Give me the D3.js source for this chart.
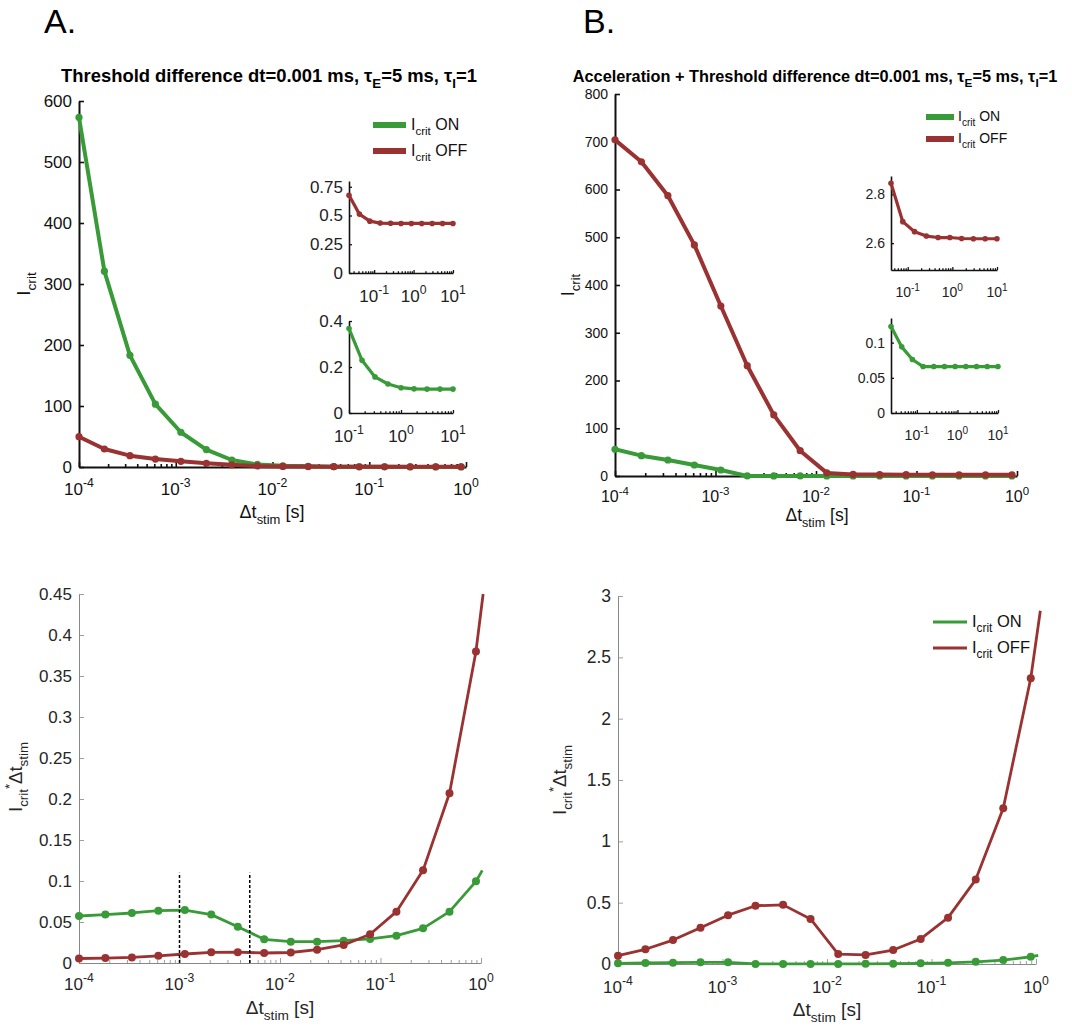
<!DOCTYPE html>
<html><head><meta charset="utf-8">
<script src="https://cdn.jsdelivr.net/npm/d3@7"></script>
<style>
body{margin:0;background:#fff}
svg{display:block}
text{font-family:"Liberation Sans",Arial,Helvetica,sans-serif}
</style>
</head><body>
<svg id="c" width="1072" height="1032"></svg>
<script>
// ---------------- data ----------------
const dtStim = [0.0001,0.000183,0.000336,0.000616,0.00113,0.00207,0.0038,0.00696,0.0128,0.0234,0.043,0.0788,0.144,0.265,0.486,0.891];
const icritOnA  = [573,321,183,103,57,28.5,11.5,4.2,2.0,1.1,0.6,0.36,0.23,0.16,0.13,0.11];
const icritOffA = [49.7,29.5,18.6,13.0,9.3,6.0,3.5,1.75,1.0,0.7,0.51,0.44,0.435,0.43,0.427,0.427];
const icritOnB  = [56,42.6,33.5,23,12.6,0.12,0.1,0.08,0.07,0.066,0.066,0.066,0.066,0.066,0.066,0.066];
const icritOffB = [704,658,587,484,356,231,128,53,6.5,3.2,2.9,2.7,2.65,2.62,2.62,2.62];
const prodOnA  = [0.0573,0.059,0.061,0.0638,0.0646,0.059,0.0443,0.0289,0.026,0.026,0.0272,0.0293,0.0333,0.0423,0.0626,0.0996];
const prodOffA = [0.0055,0.0060,0.0068,0.0088,0.0110,0.0130,0.0132,0.0122,0.0128,0.0163,0.022,0.035,0.0626,0.113,0.207,0.380];
const prodOnB  = [0.0055,0.008,0.011,0.014,0.014,0.0003,0.0004,0.0006,0.0009,0.0015,0.0028,0.0052,0.0095,0.0175,0.032,0.059];
const prodOffB = [0.068,0.12,0.195,0.295,0.398,0.475,0.482,0.367,0.081,0.074,0.114,0.204,0.378,0.688,1.27,2.33];
// unmarked line ends beyond the last marker
const prodEndOnA = [1.03, 0.113], prodEndOffA = [1.05, 0.45];
const prodEndOnB = [1.05, 0.07], prodEndOffB = [1.1, 2.88];
const markerDt = [0.001, 0.005];
const markerTop = 0.11;

// insets
const insetXA1 = [0.023,0.0422,0.0775,0.142,0.261,0.479,0.879,1.61,2.96,5.43,9.97];
const insetOffA = [0.676,0.512,0.451,0.434,0.432,0.431,0.431,0.431,0.431,0.431,0.431];
const insetXA2 = [0.1,0.178,0.316,0.562,1,1.78,3.16,5.62,10];
const insetOnA = [0.367,0.229,0.157,0.126,0.110,0.105,0.104,0.104,0.104];
const insetXB1 = [0.0422,0.0775,0.142,0.261,0.479,0.879,1.61,2.96,5.43,9.97];
const insetOffB = [2.845,2.688,2.647,2.629,2.623,2.623,2.619,2.618,2.618,2.618];
const insetXB2 = [0.023,0.0422,0.0775,0.142,0.261,0.479,0.879,1.61,2.96,5.43,9.97];
const insetOnB = [0.123,0.094,0.076,0.066,0.066,0.066,0.066,0.066,0.066,0.066,0.066];

// ticks
const mainExps = [-4,-3,-2,-1,0];
const insetExps = [-1,0,1];
const yTicksTopA = [0,100,200,300,400,500,600];
const yTicksTopB = [0,100,200,300,400,500,600,700,800];
const yTicksBotA = [0,0.05,0.1,0.15,0.2,0.25,0.3,0.35,0.4,0.45];
const yTicksBotB = [0,0.5,1,1.5,2,2.5,3];
const yTicksInA1 = [0,0.25,0.5,0.75];
const yTicksInA2 = [0,0.2,0.4];
const yTicksInB1 = [2.6,2.8];
const yTicksInB2 = [0,0.05,0.1];

const GREEN = "#389b38", RED = "#9a3232";
const svg = d3.select("#c");

// ---------------- helpers ----------------
function rich(sel, parts, size) {
  let cur = 0;
  parts.forEach(([t, m]) => {
    const ts = sel.append("tspan").text(t);
    const target = m === "sub" ? 0.32 * size : m === "sup" ? -0.45 * size : 0;
    ts.attr("dy", target - cur);
    if (m) ts.attr("font-size", size * 0.72);
    cur = target;
  });
  return sel;
}
function minorTicks(d0, d1) {
  const out = [];
  for (let k = Math.floor(Math.log10(d0)); k <= Math.ceil(Math.log10(d1)); k++)
    for (let m = 2; m <= 9; m++) { const v = m * Math.pow(10, k); if (v >= d0 && v <= d1) out.push(v); }
  return out;
}

function panel(c) {
  const x = d3.scaleLog().domain(c.xd).range(c.xr);
  const y = d3.scaleLinear().domain(c.yd).range(c.yr);
  const g = svg.append("g");
  const y0 = c.yr[0];
  const gx = g.append("g").attr("transform", `translate(0,${y0})`)
    .call(d3.axisBottom(x).tickValues(c.exps.map(e => Math.pow(10, e))).tickSizeInner(-c.tick).tickSizeOuter(0).tickFormat(""));
  const gxm = g.append("g").attr("transform", `translate(0,${y0})`)
    .call(d3.axisBottom(x).tickValues(minorTicks(c.xd[0], c.xd[1])).tickSizeInner(-c.tick * 0.6).tickSizeOuter(0).tickFormat(""));
  gxm.select(".domain").remove();
  const gy = g.append("g").attr("transform", `translate(${c.xr[0]},0)`)
    .call(d3.axisLeft(y).tickValues(c.yTicks).tickSizeInner(-c.tick).tickSizeOuter(0).tickPadding(c.ypad || 7)
      .tickFormat(d => String(+d.toFixed(3))));
  [gx, gxm, gy].forEach(a => {
    a.selectAll(".domain").attr("stroke", c.axisColor).attr("stroke-width", c.axisW);
    a.selectAll(".tick line").attr("stroke", c.axisColor).attr("stroke-width", c.axisW * 0.8);
  });
  gy.selectAll(".tick text").attr("font-size", c.ySize).attr("fill", c.textColor)
    .attr("font-family", '"Liberation Sans",Arial,sans-serif');
  c.exps.forEach(e => {
    const t = g.append("text").attr("x", x(Math.pow(10, e))).attr("y", y0 + c.xLabOff)
      .attr("text-anchor", "middle").attr("font-size", c.xSize).attr("fill", c.textColor);
    rich(t, [["10", 0], [String(e), "sup"]], c.xSize);
  });
  c.series.forEach(s => {
    const pts = s.x.map((d, i) => [d, s.y[i]]);
    const lp = s.ext ? pts.concat([s.ext]) : pts;
    g.append("path").datum(lp)
      .attr("d", d3.line().x(d => x(d[0])).y(d => y(d[1])))
      .attr("fill", "none").attr("stroke", s.color).attr("stroke-width", c.lw)
      .attr("stroke-linejoin", "round").attr("stroke-linecap", "butt");
    g.selectAll(null).data(pts).join("circle")
      .attr("cx", d => x(d[0])).attr("cy", d => y(d[1])).attr("r", c.r).attr("fill", s.color);
  });
  return { x, y, g };
}

const topStyle = { axisColor: "#111", axisW: 2, tick: 5, textColor: "#111", lw: 4, r: 3.6 };
const inStyle = { axisColor: "#111", axisW: 1.6, tick: 3, textColor: "#222", lw: 3.2, r: 2.8 };
const botStyle = { axisColor: "#888", axisW: 1, tick: 5, textColor: "#262626", lw: 2.8, r: 4 };

// ---------------- panel A top ----------------
panel(Object.assign({}, topStyle, {
  xd: [1e-4, 1], xr: [79, 466], yd: [0, 600], yr: [467, 101], exps: mainExps, yTicks: yTicksTopA,
  ySize: 17, xSize: 17, xLabOff: 28,
  series: [{ x: dtStim, y: icritOnA, color: GREEN }, { x: dtStim, y: icritOffA, color: RED }]
}));
panel(Object.assign({}, inStyle, {
  xd: [0.023, 10], xr: [349, 453], yd: [0, 0.8], yr: [273, 181], exps: insetExps, yTicks: yTicksInA1,
  ySize: 17, xSize: 17, xLabOff: 29, ypad: 6,
  series: [{ x: insetXA1, y: insetOffA, color: RED }]
}));
panel(Object.assign({}, inStyle, {
  xd: [0.1, 10], xr: [349, 453], yd: [0, 0.4], yr: [413, 321], exps: insetExps, yTicks: yTicksInA2,
  ySize: 17, xSize: 17, xLabOff: 29, ypad: 6,
  series: [{ x: insetXA2, y: insetOnA, color: GREEN }]
}));

// ---------------- panel B top ----------------
panel(Object.assign({}, topStyle, {
  xd: [1e-4, 1], xr: [615, 1017], yd: [0, 800], yr: [476, 94], exps: mainExps, yTicks: yTicksTopB,
  ySize: 14, xSize: 16, xLabOff: 26,
  series: [{ x: dtStim, y: icritOnB, color: GREEN }, { x: dtStim, y: icritOffB, color: RED }]
}));
panel(Object.assign({}, inStyle, {
  xd: [0.0422, 10], xr: [891, 997], yd: [2.49, 2.875], yr: [270, 176], exps: insetExps, yTicks: yTicksInB1,
  ySize: 14, xSize: 14, xLabOff: 27, ypad: 6,
  series: [{ x: insetXB1, y: insetOffB, color: RED }]
}));
panel(Object.assign({}, inStyle, {
  xd: [0.023, 10], xr: [891, 998], yd: [0, 0.135], yr: [413, 318], exps: insetExps, yTicks: yTicksInB2,
  ySize: 14, xSize: 14, xLabOff: 27, ypad: 6,
  series: [{ x: insetXB2, y: insetOnB, color: GREEN }]
}));

// ---------------- bottom panels ----------------
const bA = panel(Object.assign({}, botStyle, {
  xd: [1e-4, 1], xr: [79, 481], yd: [0, 0.45], yr: [963, 594], exps: mainExps, yTicks: yTicksBotA,
  ySize: 17, xSize: 17, xLabOff: 27,
  series: [{ x: dtStim, y: prodOnA, color: GREEN, ext: prodEndOnA },
           { x: dtStim, y: prodOffA, color: RED, ext: prodEndOffA }]
}));
markerDt.forEach(v => {
  bA.g.append("line").attr("x1", bA.x(v)).attr("x2", bA.x(v)).attr("y1", bA.y(0)).attr("y2", bA.y(markerTop))
    .attr("stroke", "#000").attr("stroke-width", 1.5).attr("stroke-dasharray", "3,2");
});
panel(Object.assign({}, botStyle, {
  xd: [1e-4, 1], xr: [618, 1036], yd: [0, 3], yr: [964, 596], exps: mainExps, yTicks: yTicksBotB,
  ySize: 17.5, xSize: 17, xLabOff: 29,
  series: [{ x: dtStim, y: prodOnB, color: GREEN, ext: prodEndOnB },
           { x: dtStim, y: prodOffB, color: RED, ext: prodEndOffB }]
}));

// ---------------- texts ----------------
function label(x, y, parts, size, opts = {}) {
  const t = svg.append("text").attr("x", x).attr("y", y).attr("font-size", size)
    .attr("text-anchor", opts.anchor || "start").attr("fill", opts.fill || "#111");
  if (opts.bold) t.attr("font-weight", "bold");
  if (opts.rotate) t.attr("x", 0).attr("y", 0).attr("transform", `translate(${x},${y}) rotate(-90)`);
  return rich(t, parts, size);
}
label(44, 33, [["A.", 0]], 34, { fill: "#000" });
label(583, 33, [["B.", 0]], 34, { fill: "#000" });
label(269, 82, [["Threshold difference dt=0.001 ms, τ", 0], ["E", "sub"], ["=5 ms, τ", 0], ["I", "sub"], ["=1", 0]], 18.4, { anchor: "middle", bold: true, fill: "#000" });
label(815, 82, [["Acceleration + Threshold difference dt=0.001 ms, τ", 0], ["E", "sub"], ["=5 ms, τ", 0], ["I", "sub"], ["=1", 0]], 16.3, { anchor: "middle", bold: true, fill: "#000" });

const xlab = [["Δt", 0], ["stim", "sub"], [" [s]", 0]];
label(272, 518, xlab, 18, { anchor: "middle" });
label(817, 521, xlab, 17.5, { anchor: "middle" });
label(280, 1014, xlab, 19, { anchor: "middle", fill: "#262626" });
label(827, 1016, xlab, 19, { anchor: "middle", fill: "#262626" });

label(30, 284, [["I", 0], ["crit", "sub"]], 19, { anchor: "middle", rotate: true });
label(574, 285, [["I", 0], ["crit", "sub"]], 18, { anchor: "middle", rotate: true });
label(22, 777, [["I", 0], ["crit", "sub"], ["*", "sup"], ["Δt", 0], ["stim", "sub"]], 18.5, { anchor: "middle", rotate: true, fill: "#262626" });
label(566, 780, [["I", 0], ["crit", "sub"], ["*", "sup"], ["Δt", 0], ["stim", "sub"]], 18.5, { anchor: "middle", rotate: true, fill: "#262626" });

// ---------------- legends ----------------
function legend(x0, x1, tx, ys, size, lw) {
  [["ON", GREEN], ["OFF", RED]].forEach(([n, col], i) => {
    svg.append("line").attr("x1", x0).attr("x2", x1).attr("y1", ys[i]).attr("y2", ys[i])
      .attr("stroke", col).attr("stroke-width", lw);
    label(tx, ys[i] + size * 0.3, [["I", 0], ["crit", "sub"], [" " + n, 0]], size, { fill: "#111" });
  });
}
legend(373, 406, 411, [125, 151], 16, 6);
legend(926, 954, 958, [117, 139], 14, 6);
legend(933, 967, 972, [622, 648], 16.5, 2.8);
</script>
</body></html>
